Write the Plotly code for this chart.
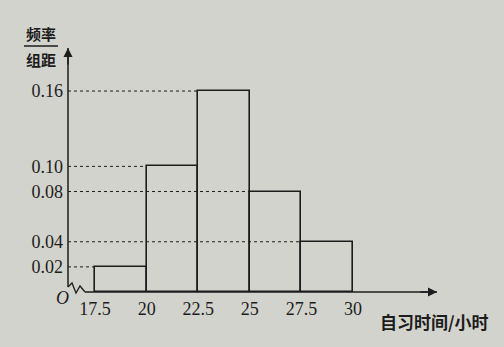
import plotly.graph_objects as go

# Data
bin_edges = [17.5, 20, 22.5, 25, 27.5, 30]
density = [0.02, 0.10, 0.16, 0.08, 0.04]
x_tick_labels = ["17.5", "20", "22.5", "25", "27.5", "30"]
y_tick_vals = [0.02, 0.04, 0.08, 0.10, 0.16]
y_tick_labels = ["0.02", "0.04", "0.08", "0.10", "0.16"]

W, H = 504, 347
L, R, T, B = 68, 67, 48, 55
pw, ph = W - L - R, H - T - B
XMIN = 16.19
XMAX = XMIN + pw / 20.64
YMAX = ph / 1256.0

def px(xp):
    return (xp - L) / pw

def py(yp):
    return (H - B - yp) / ph

bg = "#d3d3cd"
ink = "#1c1c1c"

mids = [(bin_edges[i] + bin_edges[i + 1]) / 2 for i in range(len(density))]
widths = [bin_edges[i + 1] - bin_edges[i] for i in range(len(density))]

fig = go.Figure()
fig.add_trace(go.Bar(
    x=mids, y=density, width=widths,
    marker=dict(color="rgba(0,0,0,0)", line=dict(color=ink, width=1.6)),
    hoverinfo="skip", showlegend=False,
))

# dotted guide lines from the y-axis to each bar's left edge
for i, d in enumerate(density):
    fig.add_trace(go.Scatter(
        x=[XMIN, bin_edges[i]], y=[d, d], mode="lines",
        line=dict(color=ink, width=1, dash="dot"),
        hoverinfo="skip", showlegend=False,
    ))

shapes = [
    dict(type="line", xref="paper", yref="paper", x0=0, y0=py(287), x1=0, y1=1,
         line=dict(color=ink, width=1.5)),
    dict(type="path", xref="paper", yref="paper",
         path=f"M {px(68)},{py(287)} L {px(72)},{py(283)} L {px(76)},{py(293)} L {px(80)},{py(286)} L {px(85)},{py(292)}",
         line=dict(color=ink, width=1.3)),
    dict(type="line", xref="paper", yref="paper", x0=px(85), y0=0, x1=1, y1=0,
         line=dict(color=ink, width=1.5)),
    dict(type="line", xref="paper", yref="paper", x0=px(24), y0=py(46), x1=px(58), y1=py(46),
         line=dict(color=ink, width=1.5)),
]

cjk = "Noto Sans CJK SC"
serif = "Liberation Serif"
annotations = [
    dict(xref="paper", yref="paper", x=0, y=1, ax=0, ay=18, showarrow=True,
         arrowhead=2, arrowsize=1.2, arrowwidth=1.5, arrowcolor=ink, text=""),
    dict(xref="paper", yref="paper", x=1, y=0, ax=-18, ay=0, showarrow=True,
         arrowhead=2, arrowsize=1.2, arrowwidth=1.5, arrowcolor=ink, text=""),
    dict(xref="paper", yref="paper", x=px(41), y=py(33), text="<b>频率</b>", showarrow=False,
         font=dict(family=cjk, size=15, color=ink), xanchor="center", yanchor="middle"),
    dict(xref="paper", yref="paper", x=px(41), y=py(59), text="<b>组距</b>", showarrow=False,
         font=dict(family=cjk, size=15, color=ink), xanchor="center", yanchor="middle"),
    dict(xref="paper", yref="paper", x=px(62), y=py(298), text="<i>O</i>", showarrow=False,
         font=dict(family=serif, size=18, color=ink), xanchor="center", yanchor="middle"),
    dict(xref="paper", yref="paper", x=px(434), y=py(321), text="<b>自习时间/小时</b>", showarrow=False,
         font=dict(family=cjk, size=17, color=ink), xanchor="center", yanchor="middle"),
]

fig.update_layout(
    width=W, height=H,
    margin=dict(l=L, r=R, t=T, b=B, autoexpand=False),
    paper_bgcolor=bg, plot_bgcolor=bg,
    bargap=0,
    shapes=shapes, annotations=annotations,
    xaxis=dict(range=[XMIN, XMAX], tickvals=bin_edges, ticktext=x_tick_labels,
               showgrid=False, zeroline=False, showline=False, ticks="",
               ticklabelstandoff=4,
               tickfont=dict(family=serif, size=18, color=ink)),
    yaxis=dict(range=[0, YMAX], tickvals=y_tick_vals, ticktext=y_tick_labels,
               showgrid=False, zeroline=False, showline=False, ticks="",
               ticklabelstandoff=4,
               tickfont=dict(family=serif, size=18, color=ink)),
)

fig.write_html(
    "out.html",
    config={"displayModeBar": False},
    post_script="document.body.style.margin='0';document.body.style.background='%s';" % bg,
)
